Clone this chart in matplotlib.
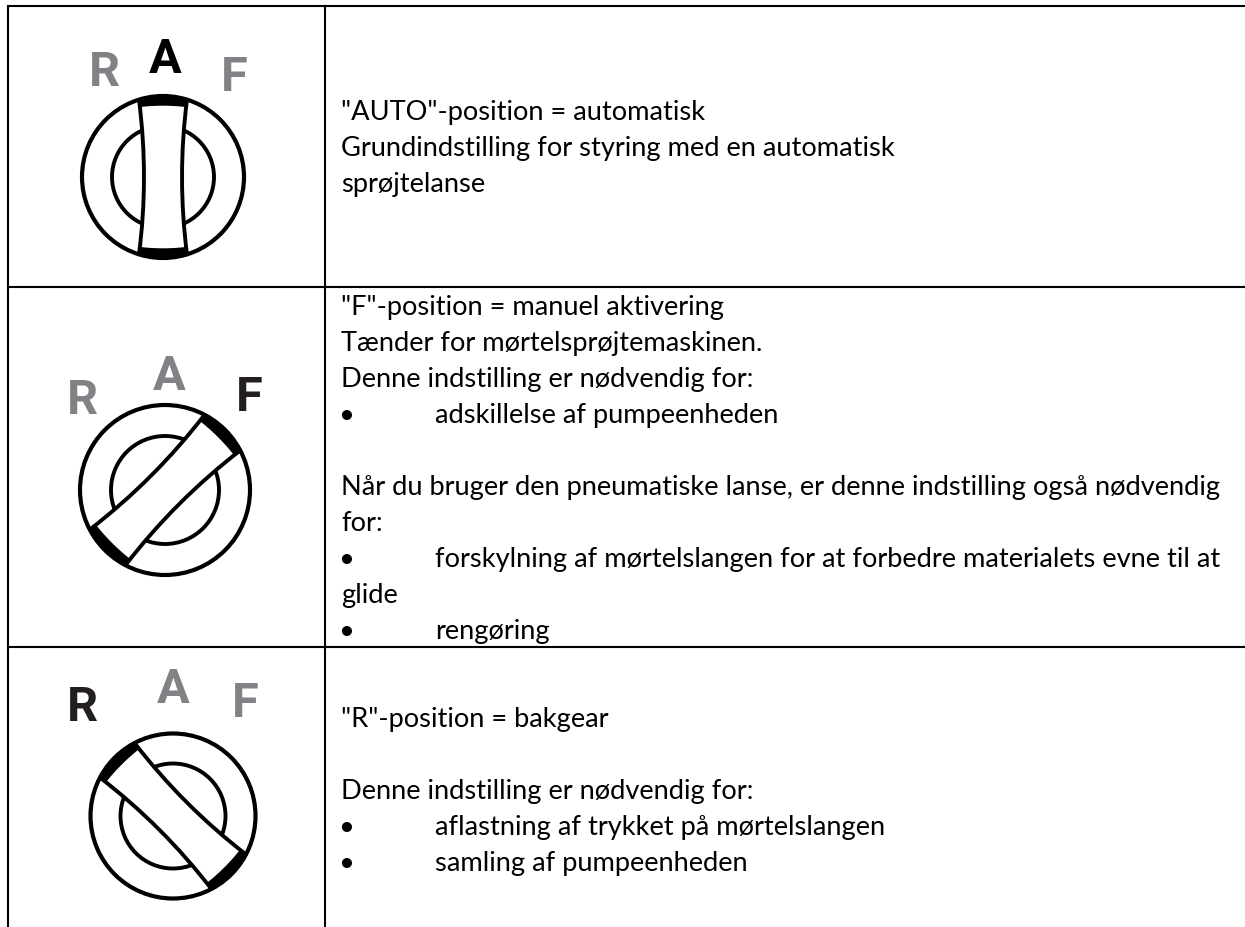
import numpy as np
import matplotlib
matplotlib.use("Agg")
import matplotlib.pyplot as plt
from matplotlib.path import Path
from matplotlib.patches import PathPatch, Circle
from matplotlib.transforms import Affine2D

W, H = 1245, 927
GREY = "#808285"
DARK = "#231f20"

row_lines = [5.5, 287, 647]
col_lines = [8, 325]

row1_text = ['"AUTO"-position = automatisk',
             'Grundindstilling for styring med en automatisk',
             'sprøjtelanse']
row1_base = [120, 156, 192]
row2_text = ['"F"-position = manuel aktivering',
             'Tænder for mørtelsprøjtemaskinen.',
             'Denne indstilling er nødvendig for:',
             '•\tadskillelse af pumpeenheden',
             '',
             'Når du bruger den pneumatiske lanse, er denne indstilling også nødvendig',
             'for:',
             '•\tforskylning af mørtelslangen for at forbedre materialets evne til at',
             'glide',
             '•\trengøring']
row2_base = [315 + 36 * i for i in range(10)]
row3_text = ['"R"-position = bakgear',
             '',
             'Denne indstilling er nødvendig for:',
             '•\taflastning af trykket på mørtelslangen',
             '•\tsamling af pumpeenheden']
row3_base = [727 + 36 * i for i in range(5)]

# centre x, centre y, outer radius, inner radius, handle angle
knob_cx = [163, 165, 173]
knob_cy = [177, 490, 816]
knob_r = [81, 85, 82.5]
knob_ri = [51, 54, 52.5]
knob_angle = [0, 45, -45]
# letter positions per knob: R, A, F (centre x, centre y) and active letter
letter_xy = [[(104, 68), (165, 55), (234, 73)],
             [(82, 396), (169, 372), (249, 393)],
             [(82, 703), (173, 685), (245, 699)]]
letters = ["R", "A", "F"]
active = ["A", "F", "R"]

fig = plt.figure(figsize=(W / 100, H / 100), dpi=100, facecolor="white")
ax = fig.add_axes([0, 0, 1, 1])
ax.set_xlim(0, W)
ax.set_ylim(H, 0)
ax.axis("off")

for y in row_lines:
    ax.plot([col_lines[0], W], [y, y], color="black", lw=1.5, solid_capstyle="projecting")
for x in col_lines:
    ax.plot([x, x], [row_lines[0], H], color="black", lw=1.5, solid_capstyle="butt")

FONT = ["Lato", "DejaVu Sans"]
FS = 19.65
TX, BX, TABX = 341, 338, 435


def put_lines(lines, bases):
    for s, b in zip(lines, bases):
        if not s:
            continue
        if "\t" in s:
            bullet, rest = s.split("\t")
            ax.text(BX, b, bullet, family=FONT, fontsize=FS, color="black", va="baseline")
            ax.text(TABX, b, rest, family=FONT, fontsize=FS, color="black", va="baseline")
        else:
            ax.text(TX, b, s, family=FONT, fontsize=FS, color="black", va="baseline")


put_lines(row1_text, row1_base)
put_lines(row2_text, row2_base)
put_lines(row3_text, row3_base)


def draw_knob(cx, cy, r, ri, angle):
    tr = Affine2D().rotate_deg(angle).translate(cx, cy) + ax.transData
    s = r / 81
    ax.add_patch(Circle((cx, cy), r, fc="white", ec="black", lw=3))
    ax.add_patch(Circle((cx, cy), ri, fc="white", ec="black", lw=2.8))
    we, wc = 24 * s, 19 * s
    ye = np.sqrt(r ** 2 - we ** 2)
    wq = 2 * wc - we
    verts = [(-we, -ye), (we, -ye), (wq, 0), (we, ye), (-we, ye), (-wq, 0), (-we, -ye)]
    codes = [Path.MOVETO, Path.LINETO, Path.CURVE3, Path.CURVE3, Path.LINETO, Path.CURVE3, Path.CURVE3]
    ax.add_patch(PathPatch(Path(verts, codes), fc="white", ec="black", lw=2.8, transform=tr, joinstyle="round"))
    # thick caps at both handle ends
    yf = r - 9 * s
    a = np.arcsin(we / r)
    t = np.linspace(-a, a, 30)
    cap = np.column_stack([r * np.sin(t), -r * np.cos(t)])
    cap_y = -yf + 1.5 * s * (t / a) ** 2
    inner = np.column_stack([r * np.sin(t), cap_y])[::-1]
    poly = np.vstack([cap, inner])
    ax.fill(poly[:, 0], poly[:, 1], color="black", transform=tr)
    ax.fill(poly[:, 0], -poly[:, 1], color="black", transform=tr)


for i in range(3):
    draw_knob(knob_cx[i], knob_cy[i], knob_r[i], knob_ri[i], knob_angle[i])
    for name, (x, y) in zip(letters, letter_xy[i]):
        ax.text(x, y, name, family=["Roboto", "DejaVu Sans"], weight="bold", fontsize=35,
                color=("black" if i == 0 else DARK) if name == active[i] else GREY,
                ha="center", va="center_baseline")

fig.savefig("out.png", dpi=100, facecolor="white")
